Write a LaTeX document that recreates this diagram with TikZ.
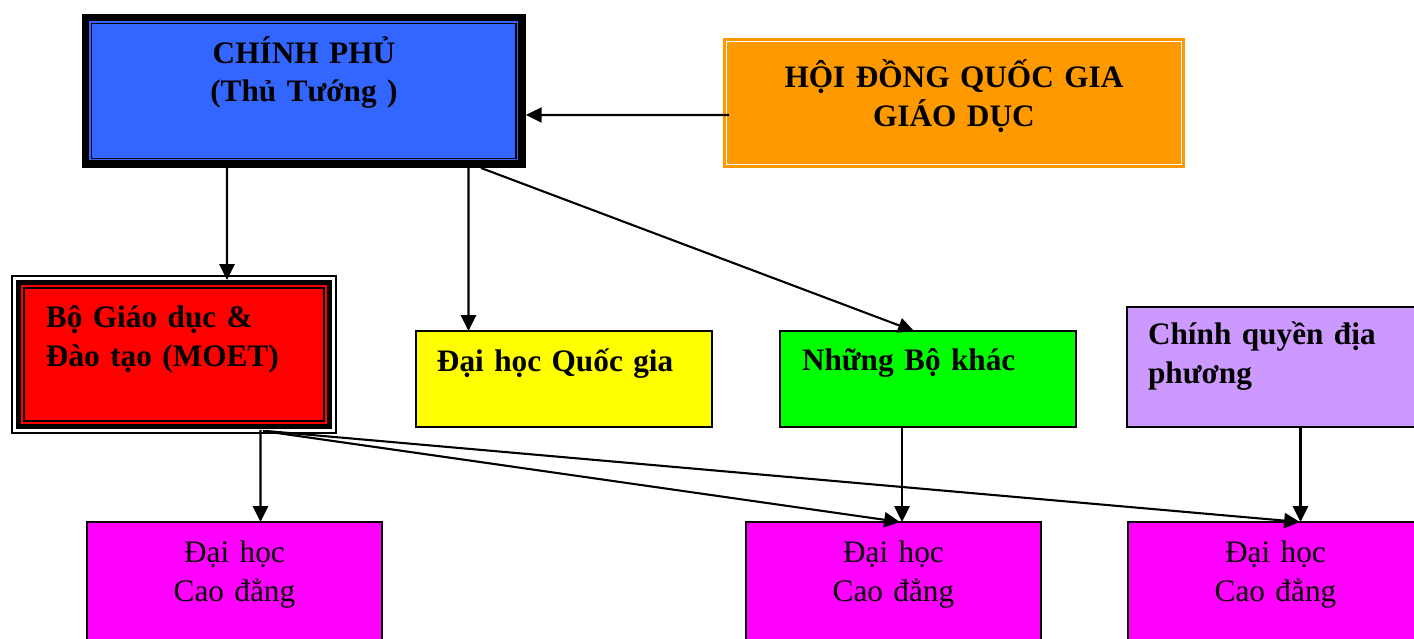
\documentclass[tikz,border=0pt]{standalone}
\usepackage{fontspec}
\setmainfont{Liberation Serif}
\usetikzlibrary{arrows.meta}
\definecolor{govblue}{HTML}{3366FF}
\definecolor{councilorange}{HTML}{FF9900}
\definecolor{uniyellow}{HTML}{FFFF00}
\definecolor{othergreen}{HTML}{00FF00}
\definecolor{localpurple}{HTML}{CC99FF}
\definecolor{hcmagenta}{HTML}{FF00FF}

\begin{document}
\begin{tikzpicture}[x=0.02cm,y=-0.02cm,>={Triangle[length=9pt,width=8.6pt]},
    box/.style={anchor=north west,inner ysep=0pt,outer sep=0pt,font=\fontsize{17.8}{21.8}\selectfont},
    bold box/.style={box,font=\fontsize{17.8}{21.8}\selectfont\bfseries},
    plain box/.style={draw,line width=0.026cm},
    gov frame/.style={fill=govblue,
      path picture={
        \draw[line width=0.15cm] ([shift={(3.75,3.75)}]path picture bounding box.north west) rectangle ([shift={(-3.75,-3.75)}]path picture bounding box.south east);
        \draw[line width=0.026cm] ([shift={(9.8,9.8)}]path picture bounding box.north west) rectangle ([shift={(-9.8,-9.8)}]path picture bounding box.south east);}},
    moet frame/.style={draw,line width=0.026cm,fill=white,
      path picture={
        \fill[red] ([shift={(4,4)}]path picture bounding box.north west) rectangle ([shift={(-4,-4)}]path picture bounding box.south east);
        \draw[line width=0.1cm] ([shift={(6.5,6.5)}]path picture bounding box.north west) rectangle ([shift={(-6.5,-6.5)}]path picture bounding box.south east);
        \draw[line width=0.026cm] ([shift={(12,12)}]path picture bounding box.north west) rectangle ([shift={(-12,-12)}]path picture bounding box.south east);}},
    council frame/.style={fill=councilorange,
      path picture={
        \draw[white,line width=0.024cm] ([shift={(3.3,3.3)}]path picture bounding box.north west) rectangle ([shift={(-3.3,-3.3)}]path picture bounding box.south east);}},
    college/.style={box,plain box,fill=hcmagenta,text width=5.9cm,inner xsep=0pt,align=center,text height=0.82cm,text depth=1.98cm},
    link/.style={->,line width=0.042cm}]
  \clip (0,0) rectangle (1414,639);

  % top row
  \node[bold box,gov frame,text width=8.88cm,inner xsep=0pt,align=center,text height=0.986cm,text depth=2.094cm] (gov) at (82,14) {CHÍNH PHỦ\\(Thủ Tướng )};
  \node[bold box,council frame,text width=9.24cm,inner xsep=0pt,align=center,text height=1cm,text depth=1.6cm] (council) at (723,38) {HỘI ĐỒNG QUỐC GIA\\GIÁO DỤC};

  % middle row
  \node[bold box,moet frame,text width=5.12cm,inner xsep=0.68cm,align=left,text height=1.04cm,text depth=2.1cm] (moet) at (12,276) {Bộ Giáo dục \&\\Đào tạo (MOET)};
  \node[bold box,plain box,fill=uniyellow,text width=5.08cm,inner xsep=0.42cm,align=left,text height=0.814cm,text depth=1.106cm] (uni) at (416,331) {Đại học Quốc gia};
  \node[bold box,plain box,fill=othergreen,text width=5.04cm,inner xsep=0.44cm,align=left,text height=0.79cm,text depth=1.13cm] (others) at (780,331) {Những Bộ khác};
  \node[bold box,plain box,fill=localpurple,text width=5.08cm,inner xsep=0.42cm,align=left,text height=0.76cm,text depth=1.64cm] (localgov) at (1127,307) {Chính quyền địa\\phương};

  % bottom row
  \node[college] (hcA) at (87,522) {Đại học\\Cao đẳng};
  \node[college] (hcB) at (746,522) {Đại học\\Cao đẳng};
  \node[college] (hcC) at (1128,522) {Đại học\\Cao đẳng};

  \path[link] ([shift={(6,12)}]council.west) edge ([shift={(0,24)}]gov.east);
  \path[link] ([shift={(-77,0)}]gov.south) edge ([shift={(53,4)}]moet.north);
  \path[link] ([shift={(164.5,0)}]gov.south) edge ([shift={(-95.5,0)}]uni.north);
  \path[link] ([shift={(177,0)}]gov.south) edge ([shift={(-14,0)}]others.north);
  \path[link] ([shift={(86.5,-3)}]moet.south) edge ([shift={(26,0)}]hcA.north);
  \path[link] ([shift={(89,-2)}]moet.south) edge ([shift={(6.5,0)}]hcB.north);
  \path[link] ([shift={(92,-2)}]moet.south) edge ([shift={(24.5,0)}]hcC.north);
  \path[link] ([shift={(-26,0)}]others.south) edge ([shift={(8.5,0)}]hcB.north);
  \path[link] ([shift={(25.5,0)}]localgov.south) edge ([shift={(25,0)}]hcC.north);
\end{tikzpicture}
\end{document}
